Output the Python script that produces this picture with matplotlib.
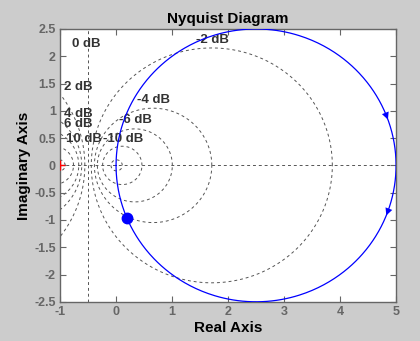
import numpy as np
import matplotlib
matplotlib.use("Agg")
import matplotlib.pyplot as plt

# open-loop system G(s) = K / (tau*s + 1)
gain = 5.0
tau = 1.0
marker_freq = 5.0               # rad/s, highlighted point on the curve
arrow_freqs = [-0.193, 0.17]    # rad/s, where the direction arrows sit

# M-circle grid (closed-loop magnitude, dB)
grid_db = [-20, -10, -6, -4, -2, 0, 2, 4, 6, 10, 20]
label_text = ["0 dB", "2 dB", "4 dB", "6 dB", "10 dB", "-10 dB", "-6 dB", "-4 dB", "-2 dB"]
label_x = [-0.78, -0.93, -0.93, -0.93, -0.89, -0.24, 0.06, 0.38, 1.42]
label_y = [2.22, 1.43, 0.95, 0.75, 0.48, 0.48, 0.83, 1.19, 2.3]


def G(w):
    return gain / (1 + 1j * w * tau)


def draw_grid(ax):
    t = np.linspace(0, 2 * np.pi, 721)
    for db in grid_db:
        if db == 0:
            ax.axvline(-0.5, color="#555555", ls=(0, (3, 3)), lw=0.7, zorder=1)
            continue
        m = 10 ** (db / 20)
        c = -m**2 / (m**2 - 1)
        r = abs(m / (m**2 - 1))
        ax.plot(c + r * np.cos(t), r * np.sin(t), color="#555555",
                ls=(0, (3, 3)), lw=0.7, zorder=1)
    ax.axhline(0, color="#555555", ls=(0, (3, 3)), lw=0.7, zorder=1)
    for s, x, y in zip(label_text, label_x, label_y):
        ax.text(x, y, s, fontsize=9.5, fontweight="bold", color="#333333",
                ha="left", va="center", family="Liberation Sans", zorder=2)


def main():
    fig = plt.figure(figsize=(4.2, 3.41), dpi=100, facecolor="#cccccc")
    ax = fig.add_axes([0.143, 0.115, 0.8, 0.8])
    ax.set_facecolor("white")

    draw_grid(ax)

    w = np.concatenate([-np.logspace(3, -3, 800), np.logspace(-3, 3, 800)])
    h = G(w)
    ax.plot(h.real, h.imag, color="blue", lw=0.9, zorder=3)

    for wa in arrow_freqs:
        p0 = G(wa)
        p1 = G(wa + 0.02)
        ax.annotate("", xy=(p1.real, p1.imag), xytext=(p0.real, p0.imag),
                    arrowprops=dict(arrowstyle="-|>", color="blue", lw=0,
                                    mutation_scale=13, shrinkA=0, shrinkB=0),
                    zorder=4)

    pm = G(marker_freq)
    ax.plot(pm.real, pm.imag, "o", color="blue", markersize=7.5, zorder=4)
    ax.plot(-1, 0, "+", color="red", markersize=7, mew=1.0, zorder=4)

    ax.set_xlim(-1, 5)
    ax.set_ylim(-2.5, 2.5)
    ax.set_xticks(np.arange(-1, 5.1, 1))
    ax.set_yticks(np.arange(-2.5, 2.51, 0.5))
    ax.set_xticklabels([f"{v:g}" for v in np.arange(-1, 5.1, 1)])
    ax.set_yticklabels([f"{v:g}" for v in np.arange(-2.5, 2.51, 0.5)])
    ax.tick_params(direction="in", length=4, width=0.8, color="#666666",
                   top=True, right=True, labelsize=9, labelcolor="#666666", pad=3)
    for lab in ax.get_xticklabels() + ax.get_yticklabels():
        lab.set_fontweight("bold")
        lab.set_family("Liberation Sans")
    for sp in ax.spines.values():
        sp.set_color("#666666")
        sp.set_linewidth(1.0)

    ax.set_title("Nyquist Diagram", fontsize=11, fontweight="bold",
                 family="Liberation Sans", pad=4)
    ax.set_xlabel("Real Axis", fontsize=11, fontweight="bold",
                  family="Liberation Sans", labelpad=2)
    ax.set_ylabel("Imaginary Axis", fontsize=11, fontweight="bold",
                  family="Liberation Sans", labelpad=2)

    fig.savefig("out.png", dpi=100, facecolor=fig.get_facecolor())


if __name__ == "__main__":
    main()
